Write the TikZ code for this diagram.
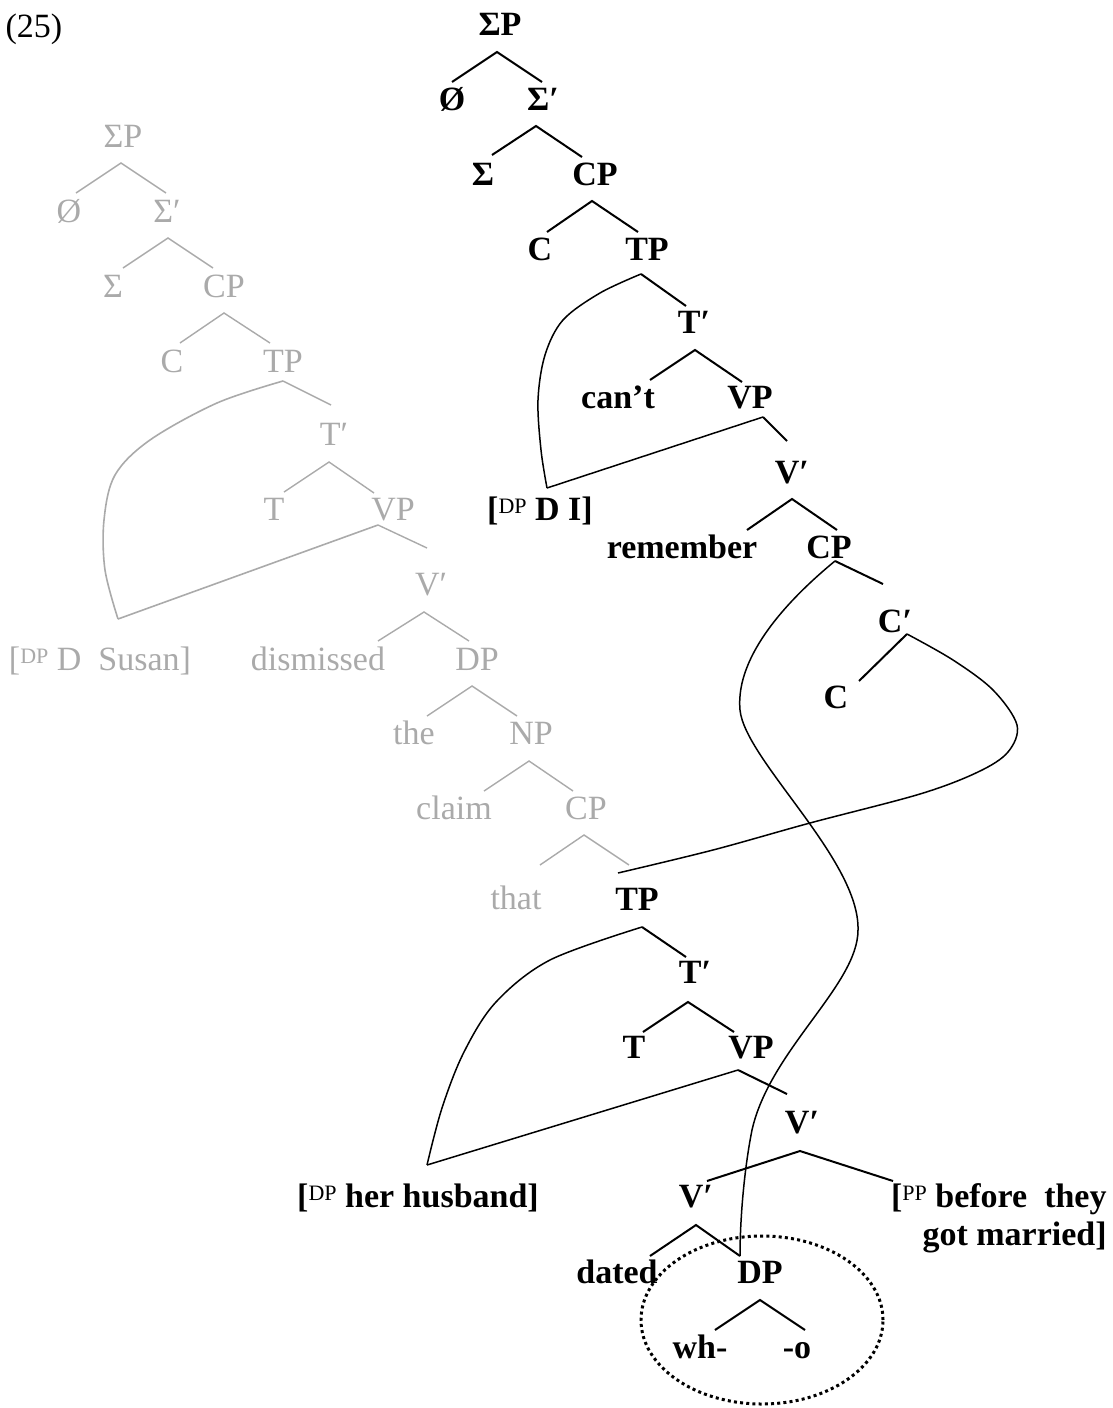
\documentclass[tikz,border=0pt]{standalone}
\usepackage{fontspec}
\setmainfont{Liberation Serif}
\usetikzlibrary{shapes.geometric}
\definecolor{lgray}{RGB}{170,170,170}
\newcommand\supdp[1]{\raisebox{3.5pt}{\fontsize{11}{11}\selectfont\mdseries #1}}
\tikzset{
  lab/.style={inner sep=0pt, anchor=base, font=\fontsize{17}{20}\selectfont\bfseries},
  glab/.style={inner sep=0pt, anchor=base, font=\fontsize{17}{20}\selectfont, text=lgray},
  br/.style={line width=1pt},
  gbr/.style={line width=0.7pt, draw=lgray},
  mov/.style={line width=0.75pt},
  gmov/.style={line width=0.8pt, draw=lgray},
}
\begin{document}
\begin{tikzpicture}[x=0.5pt,y=-0.5pt]
\useasboundingbox (0,0) rectangle (1113,1408);

% label
\node[inner sep=0pt, anchor=base, font=\fontsize{17}{20}\selectfont] (num) at (34,37) {(25)};

% ---------------- gray tree ----------------
\node[glab] (gSP) at (123,147) {ΣP};
\node[glab] (gNull) at (69,222) {Ø};
\node[glab] (gSb) at (167,222) {Σ′};
\node[glab] (gS) at (113,297) {Σ};
\node[glab] (gCP) at (224,297) {CP};
\node[glab] (gC) at (172,372) {C};
\node[glab] (gTP) at (283,372) {TP};
\node[glab] (gTb) at (334,445) {T′};
\node[glab] (gT) at (274,520) {T};
\node[glab] (gVP) at (393,520) {VP};
\node[glab] (gVb) at (431,595) {V′};
\node[glab] (gSus) at (100,670) {[\supdp{DP} D\ \ Susan]};
\node[glab] (gdis) at (318,670) {dismissed};
\node[glab] (gDP) at (477,670) {DP};
\node[glab] (gthe) at (414,744) {the};
\node[glab] (gNP) at (531,744) {NP};
\node[glab] (gclaim) at (454,819) {claim};
\node[glab] (gCP2) at (586,819) {CP};
\node[glab] (gthat) at (516,909) {that};

\coordinate (gSPa) at (121,163);
\coordinate (gNullt) at (76,193);
\coordinate (gSbt) at (166,193);
\coordinate (gSba) at (168,238);
\coordinate (gSt) at (123,268);
\coordinate (gCPt) at (213,268);
\coordinate (gCPa) at (224,313);
\coordinate (gCt) at (180,343);
\coordinate (gTPt) at (270,343);
\coordinate (gTPa) at (283,381);
\coordinate (gTbt) at (331,405);
\coordinate (gSust) at (118,619);
\coordinate (gTba) at (329,462);
\coordinate (gTt) at (284,492);
\coordinate (gVPt) at (374,493);
\coordinate (gVPa) at (378,525);
\coordinate (gVbt) at (427,548);
\coordinate (gVba) at (424,612);
\coordinate (gdist) at (378,641);
\coordinate (gDPt) at (469,641);
\coordinate (gDPa) at (472,686);
\coordinate (gthet) at (427,716);
\coordinate (gNPt) at (517,716);
\coordinate (gNPa) at (529,761);
\coordinate (gclaimt) at (484,791);
\coordinate (gCP2t) at (573,791);
\coordinate (gCP2a) at (584,835);
\coordinate (gthatt) at (540,865);
\coordinate (gTPlow) at (629,865);

\draw[gbr] (gNullt) -- (gSPa) -- (gSbt);
\draw[gbr] (gSt) -- (gSba) -- (gCPt);
\draw[gbr] (gCt) -- (gCPa) -- (gTPt);
\draw[gbr] (gTPa) -- (gTbt);
\draw[gbr] (gTt) -- (gTba) -- (gVPt);
\draw[gbr] (gVPa) -- (gVbt);
\draw[gbr] (gdist) -- (gVba) -- (gDPt);
\draw[gbr] (gthet) -- (gDPa) -- (gNPt);
\draw[gbr] (gclaimt) -- (gNPa) -- (gCP2t);
\draw[gbr] (gthatt) -- (gCP2a) -- (gTPlow);
\draw[gmov] plot[smooth, tension=0.55] coordinates {(gTPa) (217,403) (150,440) (115,475) (104,520) (105,570) (gSust)};
\draw[gmov] (gVPa) -- (gSust);

% ---------------- black tree ----------------
\node[lab] (bSP) at (500,35) {ΣP};
\node[lab] (bNull) at (452,110) {Ø};
\node[lab] (bSb) at (543,110) {Σ′};
\node[lab] (bS) at (483,185) {Σ};
\node[lab] (bCP) at (595,185) {CP};
\node[lab] (bC) at (540,260) {C};
\node[lab] (bTP) at (647,260) {TP};
\node[lab] (bTb) at (694,333) {T′};
\node[lab] (bcant) at (618,408) {can’t};
\node[lab] (bVP) at (750,408) {VP};
\node[lab] (bVb) at (792,483) {V′};
\node[lab] (bDI) at (540,520) {[\supdp{DP} D I]};
\node[lab] (brem) at (682,558) {remember};
\node[lab] (bCP2) at (829,558) {CP};
\node[lab] (bCb) at (895,632) {C′};
\node[lab] (bC2) at (836,708) {C};
\node[lab] (bTP2) at (637,910) {TP};
\node[lab] (bTb2) at (695,983) {T′};
\node[lab] (bT2) at (634,1058) {T};
\node[lab] (bVP2) at (751,1058) {VP};
\node[lab] (bVb2) at (802,1133) {V′};
\node[lab] (bVb3) at (696,1207) {V′};
\node[lab] (bhus) at (418,1207) {[\supdp{DP} her husband]};
\node[lab, anchor=base east] (bPP1) at (1107,1207) {[\supdp{PP} before\ \ they};
\node[lab, anchor=base east] (bPP2) at (1107,1245) {got married]};
\node[lab] (bdated) at (617,1283) {dated};
\node[lab] (bDP) at (760,1283) {DP};
\node[lab] (bwh) at (700,1358) {wh-};
\node[lab] (bo) at (797,1358) {-o};

\coordinate (bSPa) at (497,52);
\coordinate (bNullt) at (452,82);
\coordinate (bSbt) at (542,82);
\coordinate (bSba) at (536,126);
\coordinate (bSt) at (492,155);
\coordinate (bCPt) at (582,157);
\coordinate (bCPa) at (592,201);
\coordinate (bCt) at (547,232);
\coordinate (bTPt) at (638,232);
\coordinate (bTPa) at (641,274);
\coordinate (bTbt) at (686,306);
\coordinate (bDIt) at (547,488);
\coordinate (bTba) at (695,350);
\coordinate (bcantt) at (650,380);
\coordinate (bVPt) at (742,382);
\coordinate (bVPa) at (763,417);
\coordinate (bVbt) at (787,441);
\coordinate (bVba) at (792,499);
\coordinate (bremt) at (747,530);
\coordinate (bCP2t) at (837,530);
\coordinate (bCP2a) at (835,561);
\coordinate (bCbt) at (883,584);
\coordinate (bCba) at (907,634);
\coordinate (bC2t) at (859,681);
\coordinate (bTP2t) at (618,873);
\coordinate (bTP2a) at (642,927);
\coordinate (bTb2t) at (686,957);
\coordinate (bhust) at (427,1165);
\coordinate (bTb2a) at (688,1002);
\coordinate (bT2t) at (643,1032);
\coordinate (bVP2t) at (734,1032);
\coordinate (bVP2a) at (738,1070);
\coordinate (bVb2t) at (787,1094);
\coordinate (bVb2a) at (800,1151);
\coordinate (bVb3t) at (707,1181);
\coordinate (bPPt) at (893,1181);
\coordinate (bVb3a) at (696,1225);
\coordinate (bdatedt) at (650,1256);
\coordinate (bDPt) at (740,1256);
\coordinate (bDPa) at (760,1300);
\coordinate (bwht) at (715,1330);
\coordinate (bot) at (805,1330);
\coordinate (lc1) at (740,710);
\coordinate (lc2) at (858,930);
\coordinate (lc3) at (752,1130);

\draw[br] (bNullt) -- (bSPa) -- (bSbt);
\draw[br] (bSt) -- (bSba) -- (bCPt);
\draw[br] (bCt) -- (bCPa) -- (bTPt);
\draw[br] (bTPa) -- (bTbt);
\draw[br] (bcantt) -- (bTba) -- (bVPt);
\draw[br] (bVPa) -- (bVbt);
\draw[br] (bremt) -- (bVba) -- (bCP2t);
\draw[br] (bCP2a) -- (bCbt);
\draw[br] (bCba) -- (bC2t);
\draw[br] (bTP2a) -- (bTb2t);
\draw[br] (bT2t) -- (bTb2a) -- (bVP2t);
\draw[br] (bVP2a) -- (bVb2t);
\draw[br] (bVb3t) -- (bVb2a) -- (bPPt);
\draw[br] (bdatedt) -- (bVb3a) -- (bDPt);
\draw[br] (bwht) -- (bDPa) -- (bot);

% movement / sharing connectors
\draw[mov] plot[smooth, tension=0.55] coordinates {(bTPa) (600,293) (563,320) (545,355) (538,400) (541,450) (bDIt)};
\draw[mov] (bVPa) -- (bDIt);
\draw[mov] (bCP2a) .. controls (790,598) and (735,655) .. (lc1)
                   .. controls (745,760) and (860,860) .. (lc2)
                   .. controls (858,985) and (770,1050) .. (lc3)
                   .. controls (744,1170) and (740,1220) .. (bDPt);
\draw[mov] plot[smooth, tension=0.55] coordinates {(bCba) (953,660) (993,690) (1017,725) (1008,752) (978,772) (920,794) (810,823) (713,850) (bTP2t)};
\draw[mov] plot[smooth, tension=0.55] coordinates {(bTP2a) (550,960) (496,1002) (464,1052) (442,1108) (bhust)};
\draw[mov] (bVP2a) -- (bhust);

% dotted ellipse
\node[ellipse, draw, line width=1.5pt, dash pattern=on 1.5pt off 1.6pt, minimum width=121pt, minimum height=84pt, inner sep=0pt] (whcirc) at (762,1320) {};
\end{tikzpicture}
\end{document}
